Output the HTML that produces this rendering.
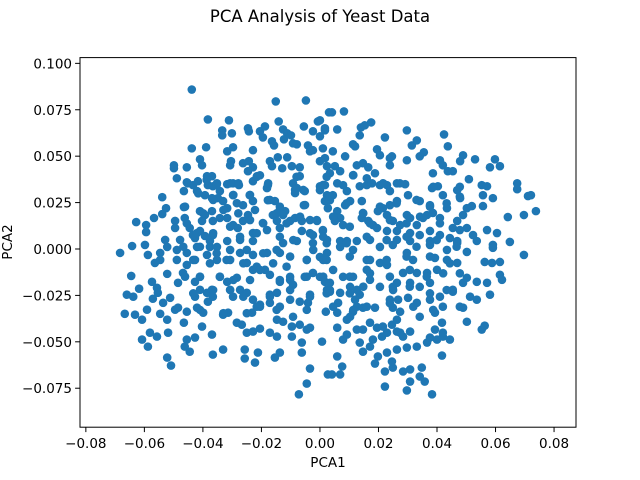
<!DOCTYPE html>
<html><head><meta charset="utf-8"><style>
html,body{margin:0;padding:0;background:#fff;}
svg{display:block;font-family:"DejaVu Sans","Liberation Sans",sans-serif;}
</style></head><body>
<svg id="chart" width="640" height="480" viewBox="0 0 640 480">
<rect x="0" y="0" width="640" height="480" fill="#fff"/>
<text x="320" y="22" text-anchor="middle" font-size="16.5" fill="#000">PCA Analysis of Yeast Data</text>
<g id="points"></g>
<g id="axes"></g>
<text x="328" y="467" text-anchor="middle" font-size="13.5" fill="#000">PCA1</text>
<text x="0" y="0" transform="translate(12,242) rotate(-90)" text-anchor="middle" font-size="13.5" fill="#000">PCA2</text>
</svg>
<script>
const xTicks = [-0.08,-0.06,-0.04,-0.02,0.00,0.02,0.04,0.06,0.08];
const xTickLabels = ["−0.08","−0.06","−0.04","−0.02","0.00","0.02","0.04","0.06","0.08"];
const yTicks = [0.100,0.075,0.050,0.025,0.000,-0.025,-0.050,-0.075];
const yTickLabels = ["0.100","0.075","0.050","0.025","0.000","−0.025","−0.050","−0.075"];
const xDomain = [-0.0820, 0.0875];
const yDomain = [-0.0960, 0.1031];
const samples = [
[-0.0438,0.0859],[-0.0151,0.0795],[-0.0048,0.0800],[-0.0383,0.0698],[-0.0311,0.0693],[-0.0141,0.0687],[-0.0334,0.0639],[-0.0334,0.0612],[-0.0301,0.0623],[-0.0246,0.0650],
[-0.0243,0.0634],[-0.0205,0.0634],[-0.0188,0.0660],[-0.0195,0.0601],[-0.0164,0.0580],[-0.0157,0.0558],[-0.0126,0.0644],[-0.0112,0.0623],[-0.0099,0.0612],[-0.0123,0.0591],
[-0.0055,0.0660],[-0.0024,0.0634],[-0.0007,0.0687],[0.0017,0.0639],[0.0031,0.0736],[-0.0438,0.0542],[-0.0389,0.0548],[-0.0499,0.0451],[-0.0499,0.0435],[-0.0455,0.0440],
[-0.0489,0.0381],[-0.0410,0.0483],[-0.0403,0.0451],[-0.0317,0.0526],[-0.0297,0.0548],[-0.0304,0.0473],[-0.0307,0.0451],[-0.0229,0.0532],[-0.0263,0.0462],[-0.0243,0.0473],
[-0.0229,0.0440],[-0.0246,0.0419],[-0.0171,0.0473],[-0.0164,0.0446],[-0.0144,0.0494],[-0.0112,0.0494],[-0.0092,0.0569],[-0.0079,0.0564],[-0.0041,0.0558],[-0.0024,0.0532],
[-0.0034,0.0526],[0.0000,0.0473],[0.0017,0.0489],[-0.0129,0.0435],[-0.0096,0.0446],[-0.0069,0.0440],[-0.0215,0.0392],[-0.0205,0.0397],[-0.0229,0.0365],[-0.0178,0.0344],
[-0.0181,0.0328],[-0.0092,0.0354],[-0.0079,0.0328],[-0.0069,0.0392],[-0.0085,0.0301],[-0.0052,0.0312],[-0.0055,0.0236],[0.0000,0.0338],[0.0024,0.0290],[0.0017,0.0258],
[-0.0465,0.0312],[-0.0452,0.0354],[-0.0434,0.0344],[-0.0417,0.0365],[-0.0386,0.0392],[-0.0369,0.0392],[-0.0383,0.0344],[-0.0366,0.0338],[-0.0352,0.0354],[-0.0342,0.0312],
[-0.0317,0.0349],[-0.0297,0.0354],[-0.0277,0.0344],[-0.0420,0.0312],[-0.0393,0.0290],[-0.0369,0.0274],[-0.0349,0.0274],[-0.0331,0.0258],[-0.0297,0.0290],[-0.0284,0.0247],
[-0.0263,0.0236],[-0.0240,0.0290],[-0.0229,0.0258],[-0.0178,0.0263],[-0.0154,0.0258],[-0.0137,0.0210],[-0.0119,0.0204],[-0.0539,0.0279],[-0.0526,0.0220],[-0.0539,0.0188],
[-0.0567,0.0167],[-0.0628,0.0145],[-0.0594,0.0129],[-0.0594,0.0091],[-0.0465,0.0226],[-0.0462,0.0167],[-0.0495,0.0151],[-0.0495,0.0113],[-0.0445,0.0113],[-0.0410,0.0204],
[-0.0393,0.0183],[-0.0369,0.0204],[-0.0403,0.0151],[-0.0366,0.0151],[-0.0342,0.0167],[-0.0317,0.0220],[-0.0317,0.0167],[-0.0297,0.0129],[-0.0281,0.0113],[-0.0263,0.0151],
[-0.0246,0.0183],[-0.0222,0.0210],[-0.0229,0.0086],[-0.0195,0.0140],[-0.0181,0.0102],[-0.0161,0.0183],[-0.0147,0.0151],[-0.0137,0.0113],[-0.0126,0.0183],[-0.0102,0.0151],
[-0.0085,0.0167],[-0.0062,0.0151],[-0.0034,0.0156],[-0.0010,0.0151],[-0.0062,0.0097],[-0.0024,0.0075],[0.0010,0.0097],[0.0024,0.0049],[-0.0642,0.0016],[-0.0598,0.0022],
[-0.0529,0.0049],[-0.0478,0.0049],[-0.0427,0.0059],[-0.0376,0.0043],[-0.0317,0.0043],[-0.0273,0.0049],[-0.0229,0.0043],[-0.0126,0.0032],[-0.0079,0.0043],[-0.0024,0.0032],
[-0.0434,0.0075],[-0.0410,0.0097],[-0.0393,0.0070],[-0.0366,0.0075],
[0.0041,0.0736],[0.0082,0.0741],[0.0000,0.0693],[0.0017,0.0650],[0.0059,0.0644],[0.0000,0.0607],[0.0140,0.0655],[0.0153,0.0666],[0.0175,0.0682],[0.0136,0.0612],
[0.0113,0.0564],[0.0120,0.0553],[0.0010,0.0542],[0.0044,0.0526],[0.0086,0.0499],[0.0222,0.0601],[0.0195,0.0537],[0.0205,0.0505],[0.0239,0.0489],[0.0246,0.0499],
[0.0239,0.0451],[0.0297,0.0639],[0.0297,0.0478],[0.0314,0.0558],[0.0331,0.0585],[0.0341,0.0499],[0.0355,0.0521],[0.0424,0.0617],[0.0437,0.0553],[0.0410,0.0478],
[0.0420,0.0451],[0.0437,0.0419],[0.0454,0.0419],[0.0479,0.0473],[0.0489,0.0505],[0.0386,0.0408],[0.0530,0.0483],[0.0598,0.0483],[0.0581,0.0440],[0.0615,0.0446],
[0.0509,0.0376],[0.0674,0.0354],[0.0674,0.0322],[0.0711,0.0285],[0.0721,0.0290],[0.0553,0.0344],[0.0571,0.0338],[0.0557,0.0290],[0.0591,0.0274],[0.0557,0.0231],
[0.0642,0.0172],[0.0697,0.0183],[0.0738,0.0204],[0.0649,0.0038],[0.0113,0.0397],[0.0126,0.0451],[0.0147,0.0462],[0.0165,0.0440],[0.0188,0.0408],[0.0160,0.0381],
[0.0024,0.0446],[0.0051,0.0446],[0.0034,0.0408],[0.0069,0.0419],[0.0079,0.0344],[0.0059,0.0354],[0.0017,0.0344],[0.0000,0.0317],[0.0092,0.0312],[0.0103,0.0258],
[0.0086,0.0236],[0.0044,0.0290],[0.0034,0.0263],[0.0027,0.0220],[0.0059,0.0204],[0.0069,0.0167],[0.0051,0.0151],[0.0079,0.0129],[0.0143,0.0258],[0.0136,0.0338],
[0.0160,0.0344],[0.0178,0.0354],[0.0205,0.0344],[0.0229,0.0344],[0.0239,0.0312],[0.0263,0.0354],[0.0291,0.0349],[0.0301,0.0290],[0.0263,0.0258],[0.0239,0.0236],
[0.0215,0.0220],[0.0198,0.0204],[0.0147,0.0194],[0.0143,0.0167],[0.0165,0.0151],[0.0181,0.0129],[0.0341,0.0258],[0.0376,0.0236],[0.0366,0.0183],[0.0383,0.0328],
[0.0403,0.0338],[0.0420,0.0290],[0.0386,0.0194],[0.0410,0.0167],[0.0434,0.0220],[0.0469,0.0317],[0.0479,0.0274],[0.0502,0.0220],[0.0519,0.0231],[0.0489,0.0183],
[0.0469,0.0151],[0.0454,0.0113],[0.0502,0.0113],[0.0523,0.0075],[0.0571,0.0102],[0.0605,0.0086],[0.0229,0.0183],[0.0249,0.0151],[0.0274,0.0129],[0.0297,0.0183],
[0.0308,0.0167],[0.0331,0.0129],[0.0352,0.0167],[0.0195,0.0113],[0.0229,0.0097],[0.0263,0.0097],[0.0308,0.0086],[0.0341,0.0075],[0.0376,0.0097],[0.0410,0.0075],
[0.0444,0.0059],[0.0010,0.0102],[0.0069,0.0043],[0.0092,0.0043],[0.0126,0.0043],[0.0171,0.0049],[0.0263,0.0049],[0.0308,0.0043],[0.0376,0.0043],[0.0469,0.0043],
[0.0536,0.0043],[0.0591,0.0022],
[-0.0683,-0.0021],[-0.0588,-0.0032],[-0.0564,-0.0075],[-0.0546,-0.0021],[-0.0522,0.0011],[-0.0489,-0.0059],[-0.0455,-0.0086],[-0.0427,-0.0059],[-0.0420,0.0011],[-0.0376,0.0011],
[-0.0352,0.0011],[-0.0645,-0.0145],[-0.0522,-0.0134],[-0.0485,-0.0182],[-0.0468,-0.0129],[-0.0427,-0.0177],[-0.0410,-0.0150],[-0.0342,-0.0150],[-0.0317,-0.0177],[-0.0284,-0.0155],
[-0.0250,-0.0075],[-0.0229,-0.0112],[-0.0188,-0.0112],[-0.0171,-0.0139],[-0.0137,-0.0177],[-0.0102,-0.0150],[-0.0092,-0.0193],[-0.0052,-0.0150],[-0.0024,-0.0129],[0.0017,-0.0177],
[-0.0045,-0.0059],[0.0000,-0.0043],[-0.0137,-0.0021],[-0.0181,-0.0021],[-0.0229,-0.0032],[-0.0273,-0.0021],[-0.0307,-0.0059],[-0.0352,-0.0059],[-0.0386,-0.0032],[-0.0455,-0.0021],
[-0.0489,-0.0005],[-0.0546,-0.0059],[-0.0660,-0.0246],[-0.0638,-0.0257],[-0.0618,-0.0214],[-0.0574,-0.0177],[-0.0557,-0.0209],[-0.0554,-0.0236],[-0.0571,-0.0268],[-0.0536,-0.0290],
[-0.0512,-0.0263],[-0.0427,-0.0257],[-0.0410,-0.0220],[-0.0386,-0.0236],[-0.0369,-0.0220],[-0.0366,-0.0257],[-0.0383,-0.0284],[-0.0307,-0.0220],[-0.0297,-0.0257],[-0.0273,-0.0220],
[-0.0250,-0.0236],[-0.0229,-0.0273],[-0.0205,-0.0300],[-0.0171,-0.0246],[-0.0147,-0.0236],[-0.0137,-0.0311],[-0.0102,-0.0273],[-0.0069,-0.0284],[-0.0034,-0.0246],[-0.0041,-0.0290],
[0.0024,-0.0220],[-0.0667,-0.0349],[-0.0632,-0.0354],[-0.0608,-0.0381],[-0.0591,-0.0327],[-0.0546,-0.0349],[-0.0522,-0.0381],[-0.0495,-0.0327],[-0.0485,-0.0316],[-0.0455,-0.0338],
[-0.0420,-0.0316],[-0.0399,-0.0343],[-0.0331,-0.0354],[-0.0314,-0.0343],[-0.0232,-0.0343],[-0.0205,-0.0311],[-0.0171,-0.0290],[-0.0465,-0.0397],[-0.0403,-0.0418],[-0.0284,-0.0397],
[-0.0267,-0.0408],[-0.0250,-0.0451],[-0.0229,-0.0445],[-0.0205,-0.0429],[-0.0171,-0.0451],[-0.0147,-0.0472],[-0.0147,-0.0381],[-0.0126,-0.0392],[-0.0092,-0.0365],[-0.0096,-0.0418],
[-0.0069,-0.0408],[-0.0045,-0.0434],[-0.0034,-0.0424],[-0.0581,-0.0451],[-0.0557,-0.0472],[-0.0519,-0.0451],[-0.0608,-0.0488],[-0.0588,-0.0526],[-0.0455,-0.0488],[-0.0445,-0.0553],
[-0.0427,-0.0477],[-0.0462,-0.0526],[-0.0369,-0.0461],[-0.0366,-0.0569],[-0.0331,-0.0542],[-0.0257,-0.0542],[-0.0212,-0.0558],[-0.0257,-0.0590],[-0.0222,-0.0612],[-0.0137,-0.0558],
[-0.0154,-0.0585],[-0.0096,-0.0472],[-0.0062,-0.0504],[-0.0062,-0.0558],[0.0007,-0.0499],[-0.0522,-0.0585],[-0.0509,-0.0628],[-0.0034,-0.0644],[-0.0045,-0.0725],[-0.0072,-0.0783],
[0.0027,-0.0676],
[0.0697,-0.0032],[0.0591,0.0006],[0.0615,-0.0070],[0.0563,-0.0070],[0.0588,-0.0075],[0.0615,-0.0139],[0.0622,-0.0166],[0.0536,-0.0177],[0.0571,-0.0182],[0.0581,-0.0246],
[0.0513,-0.0257],[0.0536,-0.0273],[0.0489,-0.0182],[0.0502,-0.0155],[0.0454,-0.0220],[0.0489,-0.0316],[0.0502,-0.0392],[0.0553,-0.0434],[0.0563,-0.0413],[0.0444,-0.0488],
[0.0417,-0.0574],[0.0383,-0.0783],[0.0358,-0.0714],[0.0341,-0.0687],[0.0348,-0.0639],[0.0308,-0.0649],[0.0284,-0.0660],[0.0308,-0.0714],[0.0297,-0.0762],[0.0222,-0.0741],
[0.0222,-0.0660],[0.0249,-0.0639],[0.0246,-0.0606],[0.0188,-0.0617],[0.0198,-0.0579],[0.0229,-0.0558],[0.0263,-0.0542],[0.0297,-0.0531],[0.0331,-0.0526],[0.0366,-0.0504],
[0.0400,-0.0488],[0.0420,-0.0472],[0.0059,-0.0579],[0.0076,-0.0633],[0.0041,-0.0676],[0.0069,-0.0676],[0.0136,-0.0504],[0.0147,-0.0553],[0.0171,-0.0526],[0.0181,-0.0488],
[0.0212,-0.0472],[0.0229,-0.0451],[0.0274,-0.0451],[0.0308,-0.0445],[0.0059,-0.0424],[0.0079,-0.0488],[0.0092,-0.0461],[0.0126,-0.0434],[0.0147,-0.0434],[0.0171,-0.0397],
[0.0195,-0.0424],[0.0215,-0.0418],[0.0246,-0.0408],[0.0263,-0.0445],[0.0284,-0.0472],[0.0376,-0.0477],[0.0393,-0.0434],[0.0417,-0.0397],[0.0420,-0.0451],[0.0020,-0.0338],
[0.0059,-0.0343],[0.0062,-0.0290],[0.0092,-0.0381],[0.0126,-0.0311],[0.0147,-0.0316],[0.0188,-0.0316],[0.0239,-0.0273],[0.0267,-0.0273],[0.0301,-0.0263],[0.0331,-0.0290],
[0.0341,-0.0365],[0.0376,-0.0273],[0.0393,-0.0343],[0.0410,-0.0257],[0.0420,-0.0311],[0.0454,-0.0230],[0.0263,-0.0381],[0.0274,-0.0338],[0.0249,-0.0316],[0.0034,-0.0230],
[0.0069,-0.0236],[0.0103,-0.0204],[0.0126,-0.0220],[0.0171,-0.0166],[0.0205,-0.0204],[0.0249,-0.0204],[0.0308,-0.0182],[0.0341,-0.0204],[0.0376,-0.0182],[0.0400,-0.0112],
[0.0366,-0.0129],[0.0331,-0.0129],[0.0284,-0.0129],[0.0263,-0.0182],[0.0229,-0.0086],[0.0205,-0.0075],[0.0160,-0.0112],[0.0113,-0.0150],[0.0079,-0.0150],[0.0034,-0.0182],
[0.0000,-0.0150],[0.0024,-0.0021],[0.0069,0.0011],[0.0113,-0.0005],[0.0160,-0.0059],[0.0205,0.0011],[0.0249,0.0022],[0.0297,-0.0021],[0.0318,-0.0059],[0.0376,0.0022],
[0.0393,-0.0048],[0.0434,-0.0059],[0.0469,-0.0075],[0.0434,-0.0005],[0.0502,-0.0016],[0.0469,0.0032],[0.0120,-0.0273],[0.0136,-0.0246],[0.0113,-0.0338],[0.0103,-0.0365],
[0.0160,-0.0311],
[-0.0455,0.0359],[-0.0387,0.0372],[-0.0353,0.0345],[-0.0307,0.0354],[-0.0279,0.0354],[-0.0216,0.0389],[-0.0177,0.0354],[-0.0080,0.0389],[-0.0085,0.0318],[-0.0057,0.0318],
[0.0011,0.0345],[-0.0416,0.0300],[-0.0365,0.0264],[-0.0296,0.0291],[-0.0239,0.0291],[-0.0171,0.0264],[-0.0137,0.0228],[-0.0051,0.0237],[-0.0461,0.0228],[-0.0399,0.0192],
[-0.0330,0.0210],[-0.0279,0.0192],[-0.0239,0.0156],[-0.0194,0.0138],[-0.0148,0.0192],[-0.0114,0.0138],[-0.0068,0.0174],[-0.0011,0.0156],[-0.0455,0.0138],[-0.0421,0.0085],
[-0.0365,0.0085],[-0.0307,0.0120],[-0.0273,0.0066],[-0.0216,0.0085],[-0.0137,0.0066],[-0.0091,0.0048],[-0.0034,0.0085],[0.0011,0.0066],[-0.0467,0.0012],[-0.0410,0.0012],
[-0.0353,-0.0023],[-0.0307,-0.0005],[-0.0250,-0.0005],[-0.0194,-0.0023],[-0.0148,-0.0005],[-0.0102,-0.0041],[-0.0023,-0.0005],[-0.0433,-0.0059],[-0.0376,-0.0077],[-0.0319,-0.0059],
[-0.0262,-0.0077],[-0.0216,-0.0095],[-0.0160,-0.0077],[-0.0114,-0.0095],[-0.0045,-0.0059],[0.0011,-0.0059],[-0.0461,-0.0149],[-0.0410,-0.0149],[-0.0342,-0.0149],[-0.0296,-0.0167],
[-0.0239,-0.0167],[-0.0205,-0.0113],[-0.0137,-0.0167],[-0.0102,-0.0167],[-0.0045,-0.0149],[0.0011,-0.0149],[-0.0433,-0.0239],[-0.0365,-0.0221],[-0.0307,-0.0221],[-0.0262,-0.0257],
[-0.0216,-0.0311],[-0.0171,-0.0257],[-0.0102,-0.0221],[-0.0034,-0.0257],[0.0023,-0.0239],[-0.0410,-0.0328],[-0.0330,-0.0346],[-0.0250,-0.0346],[-0.0148,-0.0328],[-0.0045,-0.0328],
[0.0023,0.0389],[0.0114,0.0398],[0.0216,0.0354],[0.0273,0.0354],[0.0387,0.0335],[0.0478,0.0335],[0.0034,0.0282],[0.0091,0.0246],[0.0148,0.0192],[0.0205,0.0228],
[0.0262,0.0246],[0.0330,0.0264],[0.0376,0.0228],[0.0433,0.0246],[0.0478,0.0282],[0.0045,0.0174],[0.0102,0.0120],[0.0171,0.0138],[0.0239,0.0156],[0.0296,0.0138],
[0.0342,0.0174],[0.0410,0.0138],[0.0478,0.0102],[0.0023,0.0031],[0.0091,0.0031],[0.0160,0.0066],[0.0228,0.0048],[0.0296,0.0066],[0.0330,0.0012],[0.0399,0.0048],
[0.0467,0.0012],[0.0023,-0.0059],[0.0102,-0.0041],[0.0171,-0.0059],[0.0228,-0.0059],[0.0296,-0.0041],[0.0376,-0.0041],[0.0444,-0.0077],[0.0045,-0.0113],[0.0102,-0.0149],
[0.0171,-0.0131],[0.0239,-0.0149],[0.0307,-0.0113],[0.0365,-0.0149],[0.0421,-0.0131],[0.0478,-0.0131],[0.0034,-0.0221],[0.0102,-0.0239],[0.0148,-0.0203],[0.0250,-0.0221],
[0.0307,-0.0203],[0.0376,-0.0239],[0.0433,-0.0221],[0.0045,-0.0311],[0.0114,-0.0328],[0.0239,-0.0292],[0.0319,-0.0311],[0.0387,-0.0328],[0.0478,-0.0311]
];

const NS = "http://www.w3.org/2000/svg";
const plot = {left:80, top:57.6, width:496, height:369.6};
function xScale(v){ return plot.left + (v - xDomain[0]) / (xDomain[1] - xDomain[0]) * plot.width; }
function yScale(v){ return plot.top + (yDomain[1] - v) / (yDomain[1] - yDomain[0]) * plot.height; }
function mk(tag, attrs){ const e = document.createElementNS(NS, tag); for (const k in attrs) e.setAttribute(k, attrs[k]); return e; }

const pg = document.getElementById("points");
samples.forEach(function(p){
  const c = mk("circle", {cx: xScale(p[0]).toFixed(2), cy: yScale(p[1]).toFixed(2), r: 4.3, fill: "#1f77b4"});
  
  
  pg.appendChild(c);
});

const ag = document.getElementById("axes");
const frame = mk("rect", {x: plot.left, y: plot.top, width: plot.width, height: plot.height, fill: "none", stroke: "#000", "stroke-width": 1});


ag.appendChild(frame);
const yb = plot.top + plot.height;
xTicks.forEach(function(t, i){
  const x = xScale(t);
  const ln = mk("line", {x1: x, x2: x, y1: yb, y2: yb + 4.9, stroke: "#000", "stroke-width": 1});
  
  
  ag.appendChild(ln);
  const tx = mk("text", {x: x, y: yb + 21, "text-anchor": "middle", "font-size": 13.5, fill: "#000"});
  
  
  tx.textContent = xTickLabels[i];
  ag.appendChild(tx);
});
yTicks.forEach(function(t, i){
  const y = yScale(t);
  const ln = mk("line", {x1: plot.left - 4.9, x2: plot.left, y1: y, y2: y, stroke: "#000", "stroke-width": 1});
  
  
  ag.appendChild(ln);
  const tx = mk("text", {x: plot.left - 8, y: y + 5, "text-anchor": "end", "font-size": 13.5, fill: "#000"});
  
  
  tx.textContent = yTickLabels[i];
  ag.appendChild(tx);
});
</script>
</body></html>
